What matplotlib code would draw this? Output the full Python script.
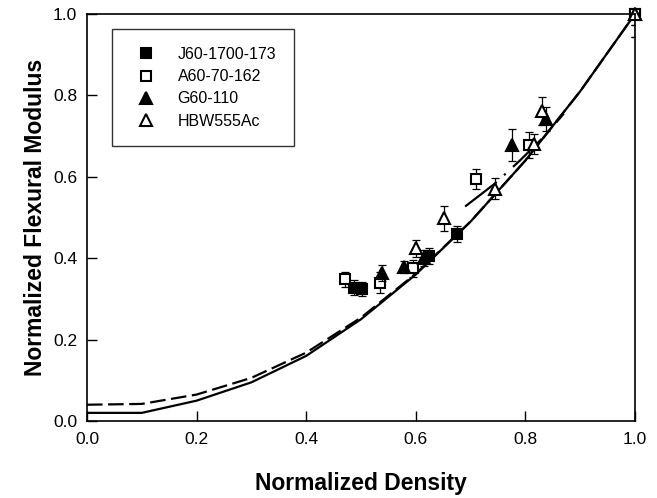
import numpy as np
import matplotlib.pyplot as plt

plt.rcParams['font.family'] = ['Liberation Sans', 'DejaVu Sans']

# model curves
curve_x = [0.0, 0.1, 0.2, 0.3, 0.4, 0.5, 0.6, 0.7, 0.8, 0.9, 1.0]
solid_y = [0.02, 0.02, 0.05, 0.095, 0.16, 0.25, 0.36, 0.49, 0.64, 0.81, 1.0]
dashed_y = [0.04, 0.042, 0.065, 0.106, 0.168, 0.254, 0.362, 0.49, 0.64, 0.81, 1.0]
fit_x = [0.69, 0.745, 0.79, 0.835, 0.87]
fit_y = [0.527, 0.584, 0.64, 0.70, 0.755]

# measured data
j60_x = [0.487, 0.502, 0.625, 0.675, 1.0]
j60_y = [0.328, 0.324, 0.405, 0.459, 1.0]
j60_e = [0.018, 0.018, 0.02, 0.02, 0.028]

a60_x = [0.470, 0.535, 0.594, 0.709, 0.807, 1.0]
a60_y = [0.348, 0.340, 0.375, 0.594, 0.678, 1.0]
a60_e = [0.018, 0.025, 0.02, 0.025, 0.033, 0.028]

g60_x = [0.539, 0.578, 0.615, 0.776, 0.837, 1.0]
g60_y = [0.363, 0.379, 0.400, 0.678, 0.742, 1.0]
g60_e = [0.02, 0.015, 0.02, 0.04, 0.03, 0.056]

hbw_x = [0.600, 0.651, 0.745, 0.815, 0.831, 1.0]
hbw_y = [0.424, 0.498, 0.571, 0.680, 0.762, 1.0]
hbw_e = [0.02, 0.03, 0.025, 0.025, 0.035, 0.056]

fig = plt.figure(figsize=(6.57, 4.98), dpi=100)
ax = fig.add_axes([0.1324, 0.1546, 0.8341, 0.8173])

ax.plot(curve_x, solid_y, 'k-', lw=1.6)
ax.plot(curve_x, dashed_y, 'k--', lw=1.6, dashes=(7, 2.5))
ax.plot(fit_x, fit_y, color='k', lw=1.6, dashes=(18, 4.5, 1, 4.5))

series = [
    (j60_x, j60_y, j60_e, 's', 7, 'k', 'J60-1700-173'),
    (a60_x, a60_y, a60_e, 's', 7, 'white', 'A60-70-162'),
    (g60_x, g60_y, g60_e, '^', 8, 'k', 'G60-110'),
    (hbw_x, hbw_y, hbw_e, '^', 8, 'white', 'HBW555Ac'),
]
handles = []
for x, y, e, m, ms, fc, lab in series:
    ax.errorbar(x, y, yerr=e, fmt='none', ecolor='k', elinewidth=0.9,
                capsize=3, capthick=0.9)
    h, = ax.plot(x, y, ls='none', marker=m, ms=ms, mfc=fc, mec='k',
                 mew=1.5, label=lab, clip_on=False)
    handles.append(h)

ax.set_xlim(0, 1.0)
ax.set_ylim(0, 1.0)
ax.set_xticks(np.arange(0, 1.01, 0.2))
ax.set_yticks(np.arange(0, 1.01, 0.2))
ax.xaxis.set_major_formatter(plt.FormatStrFormatter('%.1f'))
ax.yaxis.set_major_formatter(plt.FormatStrFormatter('%.1f'))
ax.tick_params(direction='in', length=7, width=1, labelsize=12.5)
ax.tick_params(axis='x', pad=8)
ax.tick_params(axis='y', pad=7)
for s in ax.spines.values():
    s.set_linewidth(1.2)

ax.set_xlabel('Normalized Density', fontsize=16.5, fontweight='bold', labelpad=18)
ax.set_ylabel('Normalized Flexural Modulus', fontsize=16.5, fontweight='bold', labelpad=4)

leg = ax.legend(handles=handles, loc='upper left', bbox_to_anchor=(0.046, 0.962),
                fontsize=11.5, frameon=True, fancybox=False, edgecolor='k',
                handletextpad=1.0, borderpad=1.1, labelspacing=0.45,
                handlelength=2.0, borderaxespad=0)
leg.get_frame().set_linewidth(1.0)

fig.savefig('out.png', dpi=100)
